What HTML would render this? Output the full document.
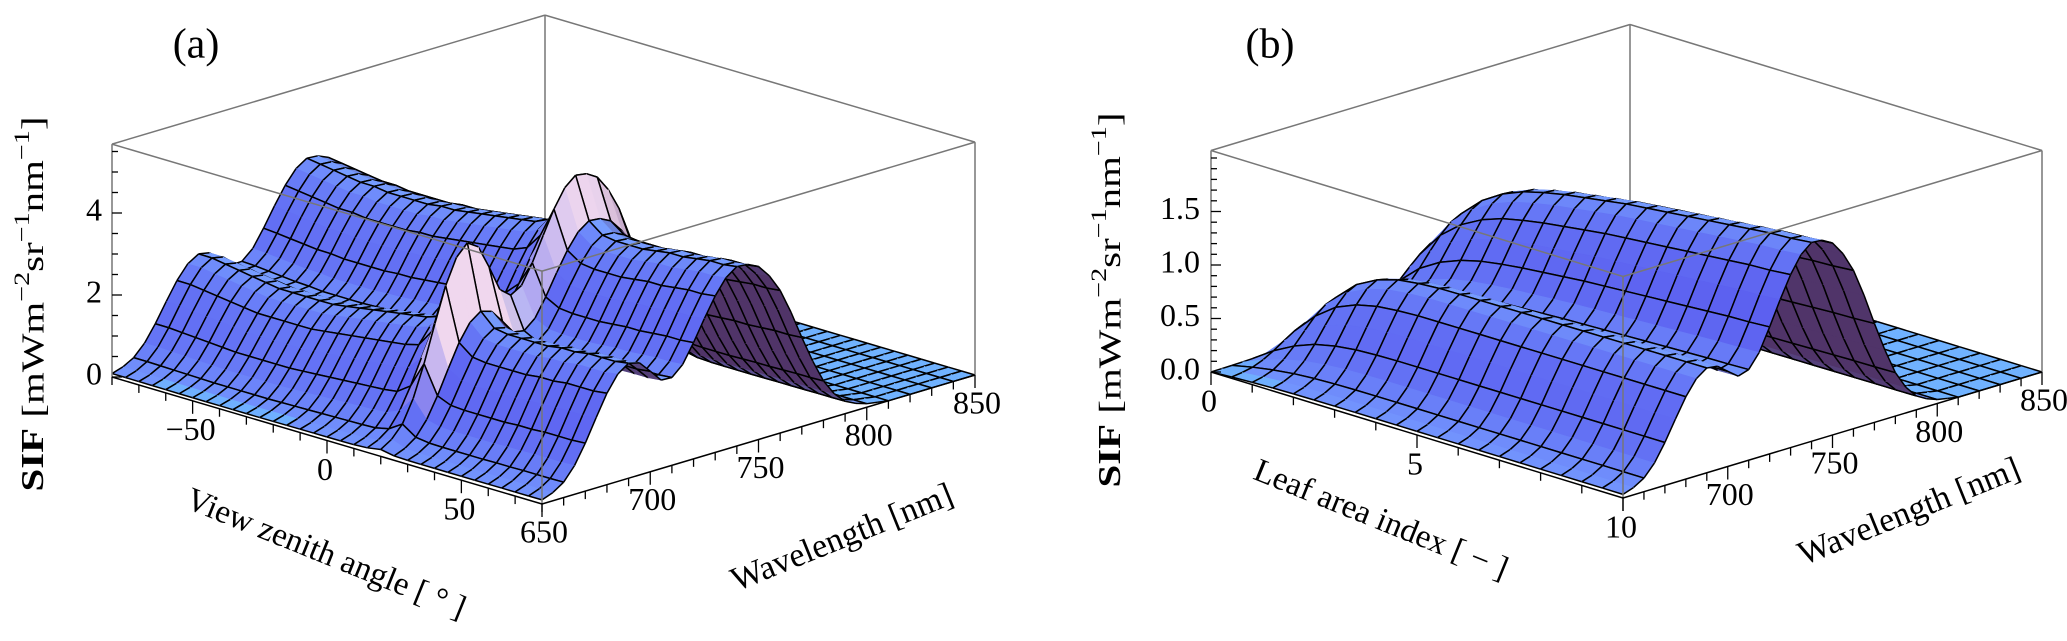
<!DOCTYPE html>
<html><head><meta charset="utf-8"><style>
html,body{margin:0;padding:0;background:#fff;}
svg{display:block;}
text{font-family:"Liberation Serif",serif;fill:#000;}
</style></head><body>
<svg id="chart" width="2067" height="641" viewBox="0 0 2067 641" xmlns="http://www.w3.org/2000/svg">
<rect width="2067" height="641" fill="#fff"/>
</svg>
<script>
// ---------- data ----------
const wavelengths=[650,655,660,665,670,675,680,685,690,695,700,705,710,715,720,725,730,735,740,745,750,755,760,765,770,775,780,785,790,795,800,805,810,815,820,825,830,835,840,845,850];
const redShape=[0.04,0.08,0.15,0.28,0.45,0.65,0.84,0.96,1.0,0.92,0.72,0.48,0.3,0.17,0.09,0.05,0.03,0.02,0.01,0,0,0,0,0,0,0,0,0,0,0,0,0,0,0,0,0,0,0,0,0,0];
const farRedShape=[0,0,0,0,0.01,0.02,0.03,0.05,0.07,0.1,0.15,0.22,0.32,0.45,0.6,0.74,0.86,0.95,1.0,1.0,0.97,0.9,0.8,0.66,0.5,0.35,0.22,0.13,0.07,0.04,0.02,0.01,0,0,0,0,0,0,0,0,0];
const viewAngles=[-80,-75,-70,-65,-60,-55,-50,-45,-40,-35,-30,-25,-20,-15,-10,-5,0,5,10,15,20,25,30,35,40,45,50,55,60,65,70,75,80];
const redAmpA=[2.1,2.1,2.05,2.0,1.95,1.9,1.85,1.85,1.85,1.85,1.85,1.9,1.95,2.0,2.05,2.1,2.15,2.2,2.3,2.8,4.2,2.7,2.4,2.35,2.35,2.35,2.35,2.4,2.4,2.45,2.45,2.45,2.5];
const farRedAmpA=[3.9,3.85,3.8,3.75,3.7,3.7,3.65,3.65,3.65,3.65,3.7,3.7,3.75,3.8,3.85,3.9,3.95,4.0,4.15,4.6,5.4,4.4,4.15,4.1,4.1,4.1,4.15,4.2,4.2,4.25,4.3,4.3,4.35];
const laiValues=[0,0.5,1,1.5,2,2.5,3,3.5,4,4.5,5,5.5,6,6.5,7,7.5,8,8.5,9,9.5,10];
const redAmpB=[0.02,0.3,0.52,0.68,0.77,0.82,0.84,0.85,0.85,0.85,0.85,0.85,0.85,0.85,0.85,0.85,0.85,0.85,0.85,0.85,0.85];
const farRedAmpB=[0.03,0.45,0.85,1.12,1.3,1.42,1.5,1.55,1.59,1.62,1.65,1.68,1.7,1.72,1.74,1.76,1.78,1.8,1.82,1.83,1.85];
const zTicksA=[0,2,4];
const zTicksB=[0.0,0.5,1.0,1.5];
const angleTicks=[-50,0,50];
const laiTicks=[0,5,10];
const wlTicksA=[650,700,750,800,850];
const wlTicksB=[700,750,800,850];

const NS="http://www.w3.org/2000/svg";
const svg=document.getElementById('chart');
function el(tag,attrs,parent){const e=document.createElementNS(NS,tag);for(const k in attrs)e.setAttribute(k,attrs[k]);(parent||svg).appendChild(e);return e;}
function mix(a,b,f){f=Math.max(0,Math.min(1,f));return [a[0]+(b[0]-a[0])*f,a[1]+(b[1]-a[1])*f,a[2]+(b[2]-a[2])*f];}
function rgb(c){return 'rgb('+c.map(x=>Math.round(x)).join(',')+')';}

function drawPanel(cfg){
  const g=el('g',{});
  
  
  const L=cfg.L,F=cfg.F,R=cfg.R,zs=cfg.zs;
  const uOf=x=>(x-cfg.xmin)/(cfg.xmax-cfg.xmin);
  const vOf=w=>(w-650)/200;
  const P=(u,v,z)=>[L[0]+u*(F[0]-L[0])+v*(R[0]-F[0]), L[1]+u*(F[1]-L[1])+v*(R[1]-F[1])-z*zs];
  const H=cfg.H;
  const line=(a,b,st,w,name,parent)=>{const e=el('line',{x1:a[0],y1:a[1],x2:b[0],y2:b[1],stroke:st,'stroke-width':w},parent||g);return e;};
  line(P(0,1,0),P(0,1,H),'#777',1.5,'box-back-edge');
  line(P(0,0,H),P(0,1,H),'#777',1.5,'box-top-back-left-edge');
  line(P(0,1,H),P(1,1,H),'#777',1.5,'box-top-back-right-edge');
  const xs=cfg.xs, nx=xs.length, ny=wavelengths.length;
  const Z=[];
  for(let i=0;i<nx;i++){Z.push([]);for(let j=0;j<ny;j++)Z[i].push(cfg.redAmp[i]*redShape[j]+cfg.farAmp[i]*farRedShape[j]);}
  const quads=[];
  for(let i=0;i<nx-1;i++)for(let j=0;j<ny-1;j++){
    const u0=uOf(xs[i]),u1=uOf(xs[i+1]),v0=vOf(wavelengths[j]),v1=vOf(wavelengths[j+1]);
    quads.push({i,j,u0,u1,v0,v1,d:(u0+u1)/2-(v0+v1)/2});
  }
  quads.sort((a,b)=>a.d-b.d);
  const sg=el('g',{},g);
  
  
  const vLen=Math.hypot(R[0]-F[0],R[1]-F[1]), uLen=Math.hypot(F[0]-L[0],F[1]-L[1]);
  const base=[118,156,255],deep=[92,96,240],purple=[80,52,104],pink=[240,215,238],cyan=[110,185,255],leftBlue=[80,90,232];
  for(const q of quads){
    const {i,j,u0,u1,v0,v1}=q;
    const z00=Z[i][j],z01=Z[i][j+1],z10=Z[i+1][j],z11=Z[i+1][j+1];
    const s=((z01-z00)+(z11-z10))/2*zs/((v1-v0)*vLen);
    const t=((z10-z00)+(z11-z01))/2*zs/((u1-u0)*uLen);
    let c=base;
    if(s>0)c=mix(c,deep,s/2.2);else c=mix(c,purple,(-s-0.25)/0.9);
    const zm=(z00+z01+z10+z11)/4;
    if(zm<cfg.flatZ)c=mix(c,cyan,0.75);
    if(cfg.pink)c=mix(c,pink,(Math.abs(t)-1.0)/2.0);
    else if(t>0)c=mix(c,leftBlue,t/4);
    const pts=[P(u0,v0,z00),P(u0,v1,z01),P(u1,v1,z11),P(u1,v0,z10)];
    const col=rgb(c);
    const poly=el('polygon',{points:pts.map(p=>p[0].toFixed(1)+','+p[1].toFixed(1)).join(' '),fill:col,stroke:col,'stroke-width':0.6},sg);
    
    
    line(pts[0],pts[1],'#000',1.5,'mesh-line',sg);
    line(pts[3],pts[2],'#000',1.5,'mesh-line',sg);
    if(wavelengths[j]%10===0)line(pts[0],pts[3],'#000',1.5,'mesh-line',sg);
    if(wavelengths[j+1]%10===0)line(pts[1],pts[2],'#000',1.5,'mesh-line',sg);
  }
  line(P(0,0,0),P(0,0,H),'#777',1.5,'box-left-edge');
  line(P(1,1,0),P(1,1,H),'#777',1.5,'box-right-edge');
  line(P(1,0,0),P(1,0,H),'#777',1.5,'box-front-edge');
  line(P(0,0,H),P(1,0,H),'#777',1.5,'box-top-front-left-edge');
  line(P(1,0,H),P(1,1,H),'#777',1.5,'box-top-front-right-edge');
  line(P(0,0,0),P(1,0,0),'#000',1.5,cfg.xAxisName+'-axis-line');
  line(P(1,0,0),P(1,1,0),'#000',1.5,'wavelength-axis-line');
  for(let x=cfg.xmin;x<=cfg.xmax+1e-9;x+=cfg.xMinor){
    const p=P(uOf(x),0,0);const major=cfg.xTicks.some(m=>Math.abs(m-x)<1e-6);
    line(p,[p[0],p[1]+(major?13:8)],'#000',1.3,cfg.xAxisName+'-tick');
  }
  for(let w=650;w<=850;w+=10){
    const p=P(1,vOf(w),0);const major=w%50===0;
    line(p,[p[0],p[1]+(major?13:8)],'#000',1.3,'wavelength-tick');
  }
  for(let z=0;z<=cfg.zMax+1e-9;z+=cfg.zMinor){
    const p=P(0,0,z);const major=cfg.zTicks.some(m=>Math.abs(m-z)<1e-6);
    line(p,[p[0]+(major?10:6),p[1]],'#000',1.3,'z-tick');
  }
  const txt=(s,x,y,attrs,name)=>{const e=el('text',Object.assign({x:x,y:y,'font-size':32,'dominant-baseline':'middle','text-anchor':'middle'},attrs||{}),g);e.textContent=s;return e;};
  for(const x of cfg.xTicks){const p=P(uOf(x),0,0);txt(x<0?'\u2212'+Math.abs(x):String(x),p[0]-2,p[1]+32,{},cfg.xAxisName+'-tick-label');}
  for(const w of cfg.wlTicks){const p=P(1,vOf(w),0);txt(String(w),p[0]+2,p[1]+31,{},'wavelength-tick-label');}
  for(const z of cfg.zTicks){const p=P(0,0,z);txt(z.toFixed(cfg.zDec),p[0]-cfg.zLabelGap,p[1],{'text-anchor':'end'},'z-tick-label');}
  txt(cfg.letter,cfg.letterPos[0],cfg.letterPos[1],{'font-size':42},'panel-label');
  txt(cfg.xTitle,cfg.xTitlePos[0],cfg.xTitlePos[1],{'font-size':33,transform:'rotate(22 '+cfg.xTitlePos[0]+' '+cfg.xTitlePos[1]+')'},cfg.xAxisName+'-axis-title');
  txt('Wavelength [nm]',cfg.wTitlePos[0],cfg.wTitlePos[1],{'font-size':34,transform:'rotate(-22 '+cfg.wTitlePos[0]+' '+cfg.wTitlePos[1]+')'},'wavelength-axis-title');
  const zt=el('text',{x:cfg.zTitlePos[0],y:cfg.zTitlePos[1],'font-size':32,'text-anchor':'middle','dominant-baseline':'middle',textLength:375,lengthAdjust:'spacingAndGlyphs',transform:'rotate(-90 '+cfg.zTitlePos[0]+' '+cfg.zTitlePos[1]+')'},g);
  
  
  zt.innerHTML='<tspan font-weight="bold">SIF</tspan> [mWm<tspan dy="-12" font-size="22">\u22122</tspan><tspan dy="12">sr</tspan><tspan dy="-12" font-size="22">\u22121</tspan><tspan dy="12">nm</tspan><tspan dy="-12" font-size="22">\u22121</tspan><tspan dy="12">]</tspan>';
}

drawPanel({name:'panel-a-view-zenith',L:[112,377],F:[542,504],R:[975,375],zs:41,H:5.68,
  xs:viewAngles,xmin:-80,xmax:80,redAmp:redAmpA,farAmp:farRedAmpA,pink:true,flatZ:0.12,
  xTicks:angleTicks,xMinor:10,xAxisName:'view-zenith-angle',zTicks:zTicksA,zMax:5.5,zMinor:0.5,zDec:0,zLabelGap:10,wlTicks:wlTicksA,
  letter:'(a)',letterPos:[196,48],xTitle:'View zenith angle [ \u00b0 ]',xTitlePos:[325,556],wTitlePos:[843,540],zTitlePos:[36,304]});
drawPanel({name:'panel-b-leaf-area-index',L:[1211,372],F:[1623,498],R:[2042,372],zs:107,H:2.07,
  xs:laiValues,xmin:0,xmax:10,redAmp:redAmpB,farAmp:farRedAmpB,pink:false,flatZ:0.04,
  xTicks:laiTicks,xMinor:1,xAxisName:'leaf-area-index',zTicks:zTicksB,zMax:2.0,zMinor:0.1,zDec:1,zLabelGap:11,wlTicks:wlTicksB,
  letter:'(b)',letterPos:[1270,48],xTitle:'Leaf area index [ \u2212 ]',xTitlePos:[1380,522],wTitlePos:[1910,514],zTitlePos:[1113,300]});
</script>
</body></html>
